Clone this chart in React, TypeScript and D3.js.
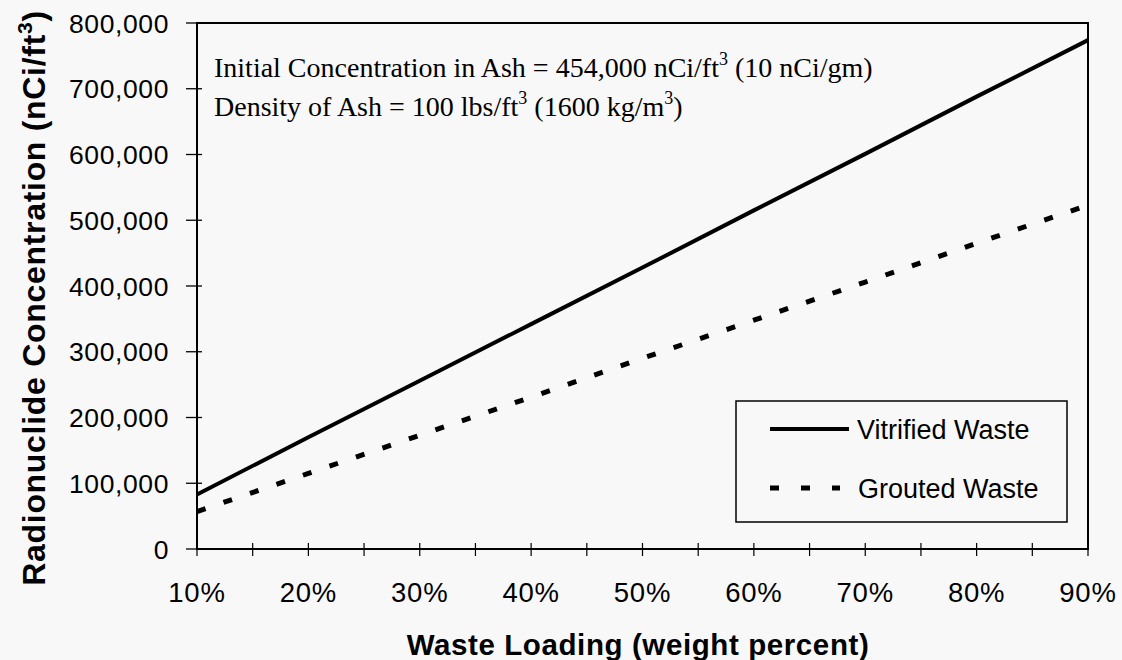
import React from "react";
import * as d3 from "d3";

// Waste loading (weight percent) sampled every 10%
const loadings = [10, 20, 30, 40, 50, 60, 70, 80, 90];
// Radionuclide concentration (nCi/ft^3)
const vitrified = [83000, 170000, 256000, 342000, 428000, 515000, 601000, 688000, 774000];
const grouted = [57000, 115000, 173000, 231000, 290000, 348000, 406000, 465000, 523000];

const xTickValues = [10, 15, 20, 25, 30, 35, 40, 45, 50, 55, 60, 65, 70, 75, 80, 85, 90];
const xLabelValues = [10, 20, 30, 40, 50, 60, 70, 80, 90];
const yTickValues = [0, 100000, 200000, 300000, 400000, 500000, 600000, 700000, 800000];

const W = 1122;
const H = 660;
const plot = { left: 197, right: 1088, top: 23, bottom: 549 };

const sans = "'Liberation Sans', Arial, Helvetica, sans-serif";
const serif = "'Liberation Serif', 'Times New Roman', serif";

export default function App() {
  const x = d3.scaleLinear().domain([10, 90]).range([plot.left, plot.right]);
  const y = d3.scaleLinear().domain([0, 800000]).range([plot.bottom, plot.top]);
  const line = d3
    .line<number>()
    .x((_, i) => x(loadings[i]))
    .y((d) => y(d));
  const fmt = d3.format(",");

  return (
    <div style={{ position: "absolute", left: 0, top: 0 }}>
      <svg width={W} height={H} style={{ display: "block", background: "#f8f8f8" }}>
        <rect x={0} y={0} width={W} height={H} fill="#f8f8f8" />

        {/* plot frame */}
        <rect
          x={plot.left}
          y={plot.top}
          width={plot.right - plot.left}
          height={plot.bottom - plot.top}
          fill="none"
          stroke="#000"
          strokeWidth={2}
        />

        {/* y axis ticks and labels */}
        {yTickValues.map((v) => (
          <g key={"y" + v}>
            <line x1={plot.left - 11} x2={plot.left + 5} y1={y(v)} y2={y(v)} stroke="#000" strokeWidth={1.3} />
            <text
              x={169}
              y={y(v)}
              dy="0.36em"
              textAnchor="end"
              fontFamily={sans}
              fontSize={26.5}
              letterSpacing={0.6}
              fill="#000"
            >
              {fmt(v)}
            </text>
          </g>
        ))}

        {/* x axis ticks */}
        {xTickValues.map((v) => (
          <line
            key={"xt" + v}
            x1={x(v)}
            x2={x(v)}
            y1={plot.bottom - 6}
            y2={plot.bottom + 7}
            stroke="#000"
            strokeWidth={1.2}
          />
        ))}
        {xLabelValues.map((v) => (
          <text
            key={"xl" + v}
            x={x(v)}
            y={602}
            textAnchor="middle"
            fontFamily={sans}
            fontSize={27.5}
            letterSpacing={0.8}
            fill="#000"
          >
            {v}%
          </text>
        ))}

        {/* axis titles */}
        <text
          x={638}
          y={655}
          textAnchor="middle"
          fontFamily={sans}
          fontWeight="bold"
          fontSize={29.5}
          letterSpacing={0.6}
          fill="#000"
        >
          Waste Loading (weight percent)
        </text>
        <text
          transform="translate(45,298) rotate(-90)"
          textAnchor="middle"
          fontFamily={sans}
          fontWeight="bold"
          fontSize={32}
          letterSpacing={0.7}
          fill="#000"
        >
          Radionuclide Concentration (nCi/ft
          <tspan dy={-13} fontSize={21}>3</tspan>
          <tspan dy={13}>)</tspan>
        </text>

        {/* data series */}
        <path d={line(vitrified) ?? ""} fill="none" stroke="#000" strokeWidth={4} />
        <path
          d={line(grouted) ?? ""}
          fill="none"
          stroke="#000"
          strokeWidth={5}
          strokeDasharray="9 19"
        />

        {/* annotation */}
        <text x={214} y={77} fontFamily={serif} fontSize={28} fill="#000">
          Initial Concentration in Ash = 454,000 nCi/ft
          <tspan dy={-12} fontSize={18}>3</tspan>
          <tspan dy={12}> (10 nCi/gm)</tspan>
        </text>
        <text x={214} y={116} fontFamily={serif} fontSize={28} fill="#000">
          Density of Ash = 100 lbs/ft
          <tspan dy={-12} fontSize={18}>3</tspan>
          <tspan dy={12}> (1600 kg/m</tspan>
          <tspan dy={-12} fontSize={18}>3</tspan>
          <tspan dy={12}>)</tspan>
        </text>

        {/* legend */}
        <rect x={736} y={401} width={331} height={121} fill="#f8f8f8" stroke="#000" strokeWidth={1.5} />
        <line x1={770} x2={849} y1={429} y2={429} stroke="#000" strokeWidth={4} />
        <text x={857} y={439} fontFamily={sans} fontSize={27} fill="#000">
          Vitrified Waste
        </text>
        <line
          x1={770}
          x2={840}
          y1={488}
          y2={488}
          stroke="#000"
          strokeWidth={5}
          strokeDasharray="9 22"
        />
        <text x={858} y={498} fontFamily={sans} fontSize={27} fill="#000">
          Grouted Waste
        </text>
      </svg>
    </div>
  );
}
